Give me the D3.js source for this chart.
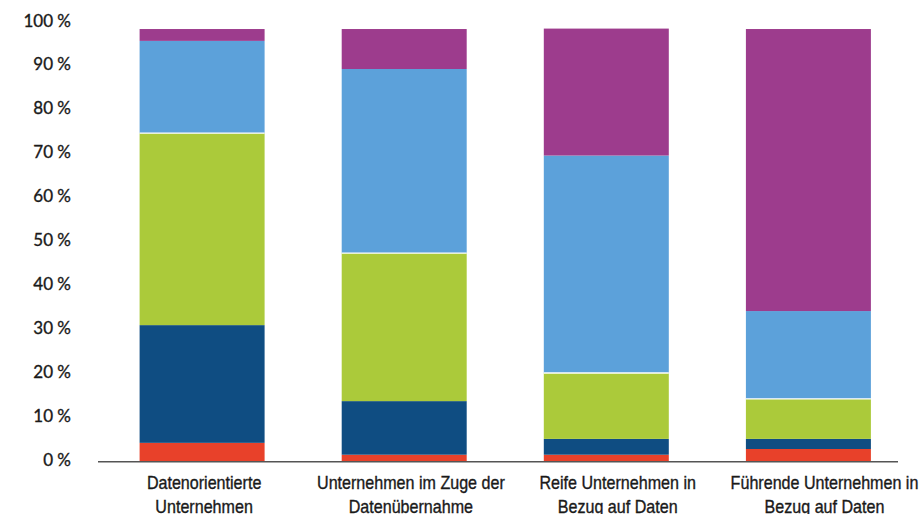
<!DOCTYPE html>
<html>
<head>
<meta charset="utf-8">
<script src="https://cdn.jsdelivr.net/npm/d3@7"></script>
<style>
  html, body { margin: 0; padding: 0; background: #fff; }
  svg { display: block; }
</style>
</head>
<body>
<svg id="chart" width="924" height="514"></svg>
<script>
// ---- data ----
const categories = [
  ["Datenorientierte", "Unternehmen"],
  ["Unternehmen im Zuge der", "Datenübernahme"],
  ["Reife Unternehmen in", "Bezug auf Daten"],
  ["Führende Unternehmen in", "Bezug auf Daten"]
];
const seriesNames = ["Stufe 1", "Stufe 2", "Stufe 3", "Stufe 4", "Stufe 5"];
const stufe1 = [4.2, 1.5, 1.5, 2.8];
const stufe2 = [26.8, 12.2, 3.6, 2.3];
const stufe3 = [43.7, 33.7, 15.0, 9.1];
const stufe4 = [21.0, 41.9, 49.5, 20.0];
const stufe5 = [2.7, 9.1, 28.9, 64.2];
const yTicks = [0, 10, 20, 30, 40, 50, 60, 70, 80, 90, 100];
const colors = ["#E8412A", "#0F4D82", "#ABCA3A", "#5CA1DA", "#9D3C8D"];

// ---- build table ----
const seriesValues = [stufe1, stufe2, stufe3, stufe4, stufe5];
const keys = categories.map(c => c.join(" "));
const table = keys.map((k, i) => {
  const row = { key: k };
  seriesNames.forEach((s, j) => row[s] = seriesValues[j][i]);
  return row;
});
const stacked = d3.stack().keys(seriesNames)(table);

// ---- scales ----
const svg = d3.select("#chart");
const y = d3.scaleLinear().domain([0, 100]).range([461.3, 22]);
const x = d3.scaleBand().domain(keys).range([139.6, 870.9]).paddingInner(0.3815).paddingOuter(0);
const xLabel = d3.scalePoint().domain(keys).range([203.6, 824]);

// ---- bars ----
const layers = svg.append("g").selectAll("g")
  .data(stacked).join("g")
  .attr("fill", (d, i) => colors[i]);
layers.selectAll("rect")
  .data(d => d).join("rect")
  .attr("x", d => x(d.data.key))
  .attr("width", x.bandwidth())
  .attr("y", d => y(d[1]))
  .attr("height", d => y(d[0]) - y(d[1]));

// white separator on top of the green segments
svg.append("g").selectAll("line")
  .data(stacked[2]).join("line")
  .attr("x1", d => x(d.data.key))
  .attr("x2", d => x(d.data.key) + x.bandwidth())
  .attr("y1", d => y(d[1]))
  .attr("y2", d => y(d[1]))
  .attr("stroke", "#fff")
  .attr("stroke-width", 1.3);

// ---- y axis ----
const yAxis = svg.append("g")
  .attr("transform", "translate(71,0)")
  .call(d3.axisLeft(y).tickValues(yTicks).tickSize(0).tickPadding(0).tickFormat(d => d + " %"));
yAxis.select(".domain").remove();
yAxis.selectAll("text")
  .attr("dy", "4px")
  .attr("fill", "#1a1a1a")
  .attr("stroke", "#1a1a1a")
  .attr("stroke-width", 0.35)
  .style("font-family", "Lato, 'Open Sans', sans-serif")
  .style("font-size", "17px");

// ---- baseline ----
svg.append("line")
  .attr("x1", 98).attr("x2", 898)
  .attr("y1", y(0) + 0.5).attr("y2", y(0) + 0.5)
  .attr("stroke", "#555")
  .attr("stroke-width", 1.4);

// ---- x axis labels ----
const xAxis = svg.append("g")
  .attr("transform", `translate(0,${y(0)})`)
  .call(d3.axisBottom(xLabel).tickSize(0).tickFormat(""));
xAxis.select(".domain").remove();
xAxis.selectAll(".tick text").remove();
xAxis.selectAll(".tick").append("text")
  .attr("text-anchor", "middle")
  .attr("transform", "scale(0.92,1)")
  .attr("fill", "#1a1a1a")
  .attr("stroke", "#1a1a1a")
  .attr("stroke-width", 0.35)
  .style("font-family", "'Liberation Sans', Arial, sans-serif")
  .style("font-size", "17.5px")
  .each(function(d, i) {
    const t = d3.select(this);
    categories[i].forEach((line, j) => {
      t.append("tspan").attr("x", 0).attr("y", 28 + j * 23.5).text(line);
    });
  });
</script>
</body>
</html>
